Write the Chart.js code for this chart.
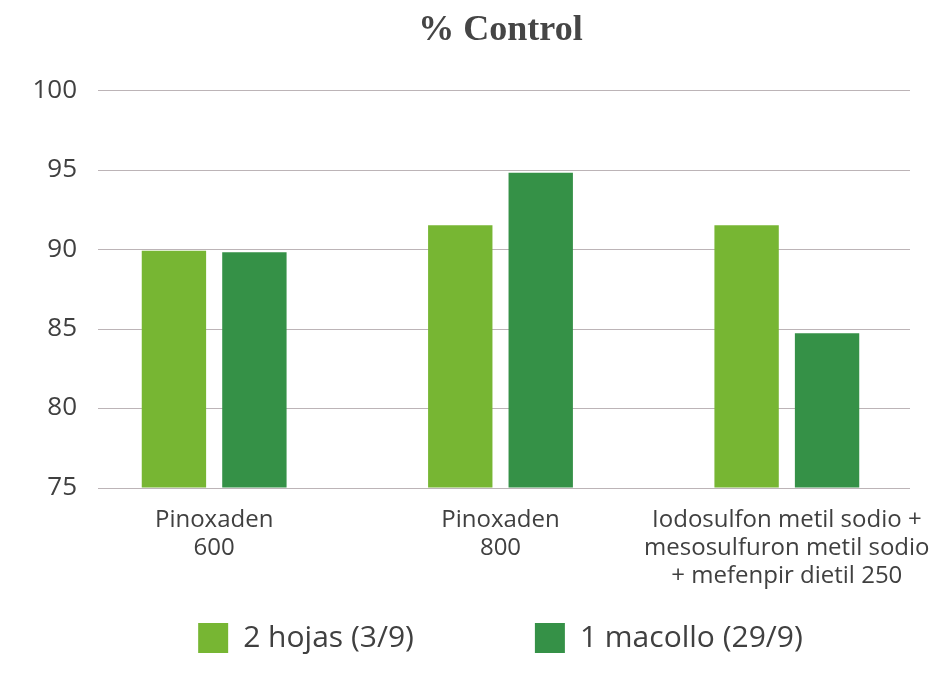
<!DOCTYPE html>
<html>
<head>
<meta charset="utf-8">
<script src="https://cdn.jsdelivr.net/npm/chart.js@4.4.1/dist/chart.umd.min.js"></script>
<style>
  html, body { margin: 0; padding: 0; background: #ffffff; }
  #wrap { width: 938px; height: 674px; }
</style>
</head>
<body>
<div id="wrap"><canvas id="c" width="938" height="674"></canvas></div>
<script>
const categories = [
  ["Pinoxaden", "600"],
  ["Pinoxaden", "800"],
  ["Iodosulfon metil sodio +", "mesosulfuron metil sodio", "+ mefenpir dietil 250"]
];
const seriesNames = ["2 hojas (3/9)", "1 macollo (29/9)"];
const hojasValues = [89.9, 91.5, 91.5];
const macolloValues = [89.8, 94.8, 84.7];
const yMin = 75, yMax = 100, yStep = 5;
const chartTitle = "% Control";

const TEXT = '#404040';
const GRID = '#bcb4b7';

const gridPlugin = {
  id: 'partialGrid',
  beforeDatasetsDraw(chart) {
    const y = chart.scales.y;
    const area = chart.chartArea;
    const ctx = chart.ctx;
    const x0 = area.left + 27, x1 = area.right - 20;
    ctx.save();
    ctx.strokeStyle = GRID;
    ctx.lineWidth = 1;
    y.ticks.forEach(t => {
      const py = Math.round(y.getPixelForValue(t.value)) + 0.5;
      ctx.beginPath();
      ctx.moveTo(x0, py);
      ctx.lineTo(x1, py);
      ctx.stroke();
    });
    ctx.restore();
  }
};

// keeps the wide gap between legend items while centring the items in the legend box
const legendPlacePlugin = {
  id: 'legendPlace',
  afterLayout(chart) {
    const lg = chart.legend;
    if (!lg) return;
    const p = lg.options.labels.padding;
    const itemH = lg.options.labels.boxHeight;
    const mid = (lg.top + lg.bottom) / 2;
    lg.top = mid - itemH / 2 - p;
  }
};

new Chart(document.getElementById('c'), {
  type: 'bar',
  data: {
    labels: categories,
    datasets: [
      { label: seriesNames[0], data: hojasValues, backgroundColor: '#77b633', borderWidth: 0 },
      { label: seriesNames[1], data: macolloValues, backgroundColor: '#359147', borderWidth: 0 }
    ]
  },
  options: {
    responsive: false,
    animation: false,
    devicePixelRatio: 1,
    layout: { padding: { left: 71, right: 8, top: 0, bottom: 0 } },
    datasets: { bar: { barPercentage: 0.80, categoryPercentage: 0.562 } },
    plugins: {
      title: {
        display: true,
        text: chartTitle,
        color: '#454545',
        font: { family: 'Liberation Serif', size: 36, weight: 'bold' },
        padding: { top: 9, bottom: 38 }
      },
      legend: {
        display: true,
        position: 'bottom',
        maxHeight: 72,
        labels: {
          boxWidth: 30,
          boxHeight: 30,
          padding: 121,
          color: TEXT,
          font: { family: 'Open Sans', size: 30 }
        }
      },
      tooltip: { enabled: false }
    },
    scales: {
      x: {
        grid: { display: false },
        border: { display: false },
        ticks: {
          color: TEXT,
          padding: 11,
          font: { family: 'Open Sans', size: 24, lineHeight: 1.16 },
          maxRotation: 0,
          autoSkip: false
        },
        afterFit(scale) {
          scale.paddingLeft = 0;
          scale.paddingRight = 0;
          scale.height = 114.5;
        }
      },
      y: {
        min: yMin,
        max: yMax,
        grid: { display: false },
        border: { display: false },
        ticks: {
          stepSize: yStep,
          color: TEXT,
          mirror: true,
          crossAlign: 'far',
          padding: -38.6,
          font: { family: 'Open Sans', size: 26 }
        },
        afterFit(scale) {
          scale.width = 0;
        }
      }
    }
  },
  plugins: [gridPlugin, legendPlacePlugin]
});
</script>
</body>
</html>
